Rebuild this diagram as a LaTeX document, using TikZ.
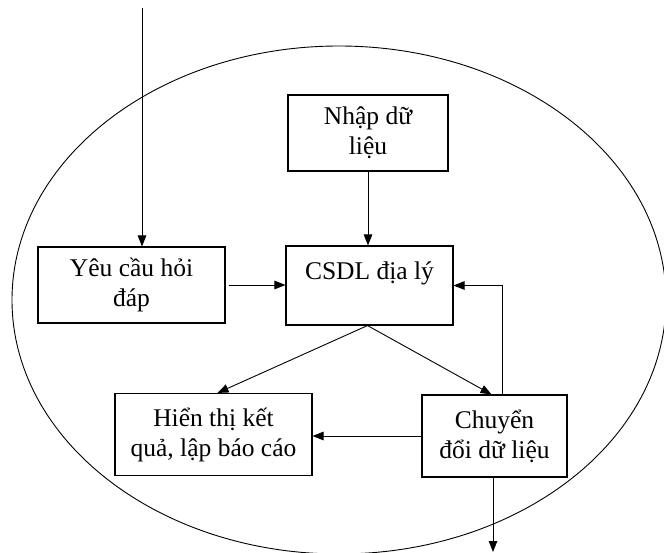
\documentclass[tikz,border=0pt]{standalone}
\usepackage{fontspec}
\setmainfont{Liberation Serif}
\usetikzlibrary{arrows.meta,calc}
\tikzset{
  box/.style={draw, line width=1.1pt, inner sep=0pt, align=center,
    font=\fontsize{25.5}{30}\selectfont},
  arr/.style={line width=0.9pt, -{Triangle[length=11pt,width=8.5pt]}},
  plain/.style={line width=0.9pt}
}
\begin{document}
\begin{tikzpicture}[x=1pt,y=-1pt]
\useasboundingbox (0,0) rectangle (664,553);
% system boundary
\draw[line width=0.9pt] (339,300) ellipse [x radius=327, y radius=254];
% processes
\node[box, minimum width=160pt, minimum height=76pt] (nhap) at (368,133) {Nhập dữ\\liệu};
\node[box, minimum width=187pt, minimum height=76pt] (yeucau) at (131.5,285) {Yêu cầu hỏi\\đáp};
\node[box, minimum width=167pt, minimum height=79pt] (csdl) at (369.5,285.5) {CSDL địa lý\\\mbox{}};
\node[box, minimum width=197pt, minimum height=82pt] (hienthi) at (213.5,434.5) {Hiển thị kết\\quả, lập báo cáo};
\node[box, minimum width=145pt, minimum height=82pt] (chuyen) at (494.5,436) {Chuyển\\đổi dữ liệu};
% free ends
\coordinate (vao) at (142,8);
\coordinate (ra) at (493,552);
% flows
\draw[arr] (vao) -- (yeucau.north -| vao);
\draw[arr] (nhap.south) -- (nhap.south |- csdl.north);
\draw[arr, shorten <=3pt] (yeucau.east) -- (yeucau.east -| csdl.west);
\draw[arr] ($(chuyen.north)+(7.5,0)$) |- (csdl.east);
\draw[arr] ($(csdl.south)+(-2,0)$) -- ($(hienthi.north)+(4,0)$);
\draw[arr] ($(csdl.south)+(-2,0)$) -- ($(chuyen.north)+(-3,0)$);
\draw[arr] (chuyen.west) -- (chuyen.west -| hienthi.east);
\draw[arr] (chuyen.south -| ra) -- (ra);
\end{tikzpicture}
\end{document}
